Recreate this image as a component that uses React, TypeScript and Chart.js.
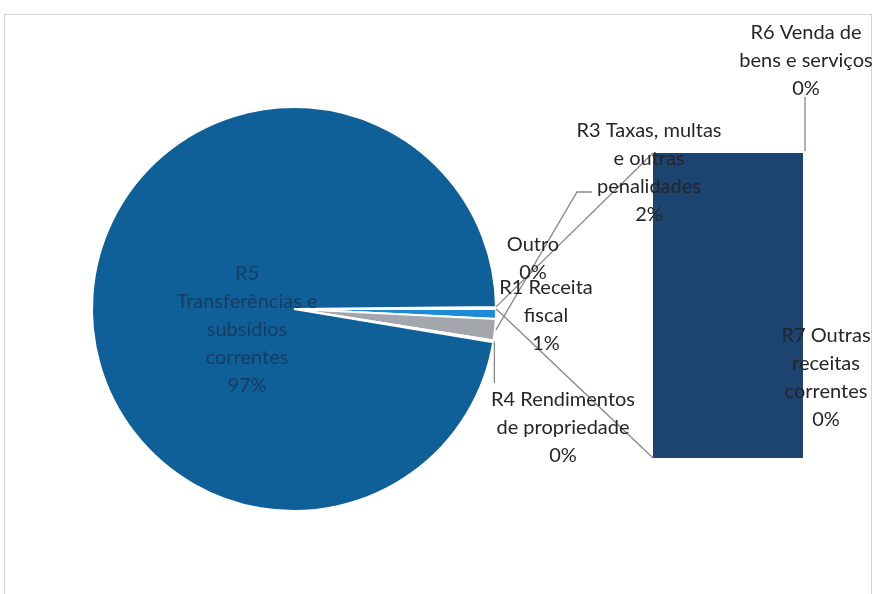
import React, { useEffect, useRef } from 'react';
import { Chart, registerables } from 'chart.js';

Chart.register(...registerables);

// ---- data ----
const barNames = ['R7 Outras receitas correntes', 'R6 Venda de bens e serviços'];
const barValues = [0.148, 0.002];
const barTotal = barValues.reduce((s, v) => s + v, 0);

const pieNames = [
  'Outro',
  'R1 Receita fiscal',
  'R3 Taxas, multas e outras penalidades',
  'R4 Rendimentos de propriedade',
  'R5 Transferências e subsídios correntes',
];
const pieValues = [barTotal, 0.8, 1.7, 0.15, 97.2];
const pieTotal = pieValues.reduce((s, v) => s + v, 0);

const pieLabelLines = [
  ['Outro'],
  ['R1 Receita', 'fiscal'],
  ['R3 Taxas, multas', 'e outras', 'penalidades'],
  ['R4 Rendimentos', 'de propriedade'],
  ['R5', 'Transferências e', 'subsídios', 'correntes'],
];
const barLabelLines = [
  ['R7 Outras', 'receitas', 'correntes'],
  ['R6 Venda de', 'bens e serviços'],
];

// ---- styles ----
const pieColors = ['#f4f6f8', '#1e8bd6', '#a3a6ad', '#f4f6f8', '#0f5f98'];
const barColors = ['#1d4470', '#1d4470'];
const FONT = '20px Lato, "Open Sans", sans-serif';
const LINE_H = 28;
const pieLabelPos = [
  { x: 533, y: 245 },
  { x: 546, y: 288 },
  { x: 649, y: 131 },
  { x: 563, y: 400 },
  { x: 247, y: 274 },
];
const barLabelPos = [
  { x: 826, y: 336 },
  { x: 806, y: 33 },
];

const pct = (v: number) => Math.round((v / pieTotal) * 100) + '%';

export default function App() {
  const pieRef = useRef<HTMLCanvasElement>(null);
  const barRef = useRef<HTMLCanvasElement>(null);

  useEffect(() => {
    document.body.style.margin = '0';
    const pie = new Chart(pieRef.current!, {
      type: 'pie',
      data: {
        labels: pieNames,
        datasets: [
          {
            data: pieValues,
            backgroundColor: pieColors,
            borderColor: '#ffffff',
            borderWidth: 2,
          },
        ],
      },
      options: {
        responsive: false,
        animation: false,
        devicePixelRatio: 1,
        rotation: 89.4,
        layout: { padding: { left: 91, top: 105, right: 379, bottom: 81 } },
        plugins: { legend: { display: false }, tooltip: { enabled: false } },
      },
    });

    const overlay = {
      id: 'overlay',
      afterDraw(chart: any) {
        const ctx = chart.ctx as CanvasRenderingContext2D;
        const arcs = pie.getDatasetMeta(0).data as any[];
        const pt = (a: any, ang: number, dr = 0) => ({
          x: a.x + (a.outerRadius + dr) * Math.cos(ang),
          y: a.y + (a.outerRadius + dr) * Math.sin(ang),
        });
        const r7 = chart.getDatasetMeta(0).data[0] as any;
        const r6 = chart.getDatasetMeta(1).data[0] as any;
        const bl = r7.x - r7.width / 2;
        const br = r7.x + r7.width / 2;
        const bTop = r6.y;
        const bBot = r7.base;

        ctx.save();
        ctx.strokeStyle = '#868686';
        ctx.lineWidth = 1.3;
        const line = (pts: { x: number; y: number }[]) => {
          ctx.beginPath();
          ctx.moveTo(pts[0].x, pts[0].y);
          for (let i = 1; i < pts.length; i++) ctx.lineTo(pts[i].x, pts[i].y);
          ctx.stroke();
        };
        // series lines from "Outro" slice to the bar
        const o = arcs[0];
        line([pt(o, o.startAngle), { x: bl, y: bTop }]);
        line([pt(o, o.endAngle), { x: bl, y: bBot }]);
        // R3 leader
        const a3 = arcs[2];
        const m3 = (a3.startAngle + a3.endAngle) / 2;
        line([pt(a3, m3, 1), { x: 577, y: 192 }, { x: 592, y: 192 }]);
        // R4 leader
        const a4 = arcs[3];
        const p4 = pt(a4, (a4.startAngle + a4.endAngle) / 2, 1);
        line([p4, { x: p4.x, y: 383 }]);
        // R6 leader
        line([{ x: br + 2, y: 97 }, { x: br + 2, y: bTop - 2 }]);

        // labels
        ctx.font = FONT;
        ctx.textAlign = 'center';
        ctx.textBaseline = 'middle';
        const drawLabel = (lines: string[], p: { x: number; y: number }, color: string) => {
          ctx.fillStyle = color;
          lines.forEach((t, i) => ctx.fillText(t, p.x, p.y + i * LINE_H));
        };
        pieLabelLines.forEach((lines, i) => {
          const color = i === 4 ? '#173d63' : '#262626';
          drawLabel([...lines, pct(pieValues[i])], pieLabelPos[i], color);
        });
        barLabelLines.forEach((lines, i) => {
          drawLabel([...lines, pct(barValues[i])], barLabelPos[i], '#262626');
        });
        ctx.restore();
      },
    };

    const bar = new Chart(barRef.current!, {
      type: 'bar',
      data: {
        labels: [''],
        datasets: barNames.map((n, i) => ({
          label: n,
          data: [barValues[i]],
          backgroundColor: barColors[i],
          borderWidth: 0,
          barPercentage: 1,
          categoryPercentage: 1,
        })),
      },
      options: {
        responsive: false,
        animation: false,
        devicePixelRatio: 1,
        layout: { padding: { left: 653, right: 73, top: 153, bottom: 136 } },
        scales: {
          x: { display: false, stacked: true },
          y: { display: false, stacked: true, min: 0, max: barTotal },
        },
        plugins: { legend: { display: false }, tooltip: { enabled: false } },
      },
      plugins: [overlay],
    });

    return () => {
      bar.destroy();
      pie.destroy();
    };
  }, []);

  return (
    <div style={{ position: 'absolute', left: 0, top: 0, width: 876, height: 594, background: '#fff', overflow: 'hidden' }}>
      <div
        style={{
          position: 'absolute',
          left: 4,
          top: 14,
          width: 868,
          height: 620,
          border: '1px solid #d4d4d8',
          boxSizing: 'border-box',
        }}
      />
      <canvas ref={pieRef} width={876} height={594} style={{ position: 'absolute', left: 0, top: 0 }} />
      <canvas ref={barRef} width={876} height={594} style={{ position: 'absolute', left: 0, top: 0 }} />
    </div>
  );
}
